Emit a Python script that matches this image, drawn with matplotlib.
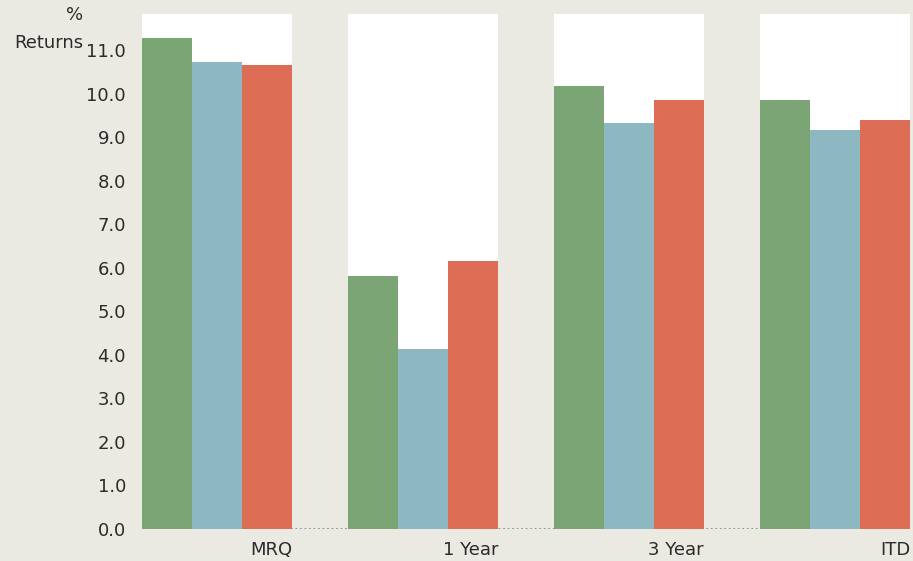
import matplotlib
matplotlib.use("Agg")
import matplotlib.pyplot as plt
import numpy as np

categories = ["MRQ", "1 Year", "3 Year", "ITD"]
series_a = [11.28, 5.81, 10.18, 9.86]   # green
series_b = [10.72, 4.13, 9.33, 9.17]    # blue
series_c = [10.67, 6.15, 9.86, 9.40]    # red
yticks = [0.0, 1.0, 2.0, 3.0, 4.0, 5.0, 6.0, 7.0, 8.0, 9.0, 10.0, 11.0]

bg = "#eae9e2"
colors = ["#7ca575", "#8db8c1", "#dd6e55"]
txt = "#2b2b2b"
fs = 13

W, H = 913, 561
fig = plt.figure(figsize=(W / 100, H / 100), dpi=100, facecolor=bg)
left, right, bottom, top = 142, 910, 528.7, 14
ax = fig.add_axes([left / W, 1 - bottom / H, (right - left) / W, (bottom - top) / H])
ax.set_facecolor(bg)

bw = 50 / 206
gw = 3 * bw
x = np.arange(len(categories))
ymax = (bottom - top) / 43.5

for i in x:
    ax.axvspan(i - gw / 2, i + gw / 2, color="white", zorder=0, lw=0)

ax.axhline(0, color="#8f8f8f", lw=1.3, ls=(0, (1, 1.5)), zorder=1)

for k, s in enumerate([series_a, series_b, series_c]):
    ax.bar(x + (k - 1) * bw, s, width=bw, color=colors[k], zorder=2, lw=0)

ax.set_xlim(-gw / 2, len(categories) - 1 + gw / 2)
ax.set_ylim(0, ymax)
for sp in ax.spines.values():
    sp.set_visible(False)
ax.set_yticks(yticks)
ax.set_yticklabels([f"{v:.1f}" for v in yticks], fontsize=fs, color=txt)
ax.tick_params(axis="y", length=0, pad=11.5)
ax.set_xticks([])

for i, c in enumerate(categories):
    ax.text(i + gw / 2, -0.5, c, ha="right", va="center", fontsize=fs, color=txt)

fig.text(83 / W, 1 - 15 / H, "%", ha="right", va="center", fontsize=fs, color=txt)
fig.text(83 / W, 1 - 43 / H, "Returns", ha="right", va="center", fontsize=fs, color=txt)

fig.savefig("out.png", dpi=100, facecolor=bg)
